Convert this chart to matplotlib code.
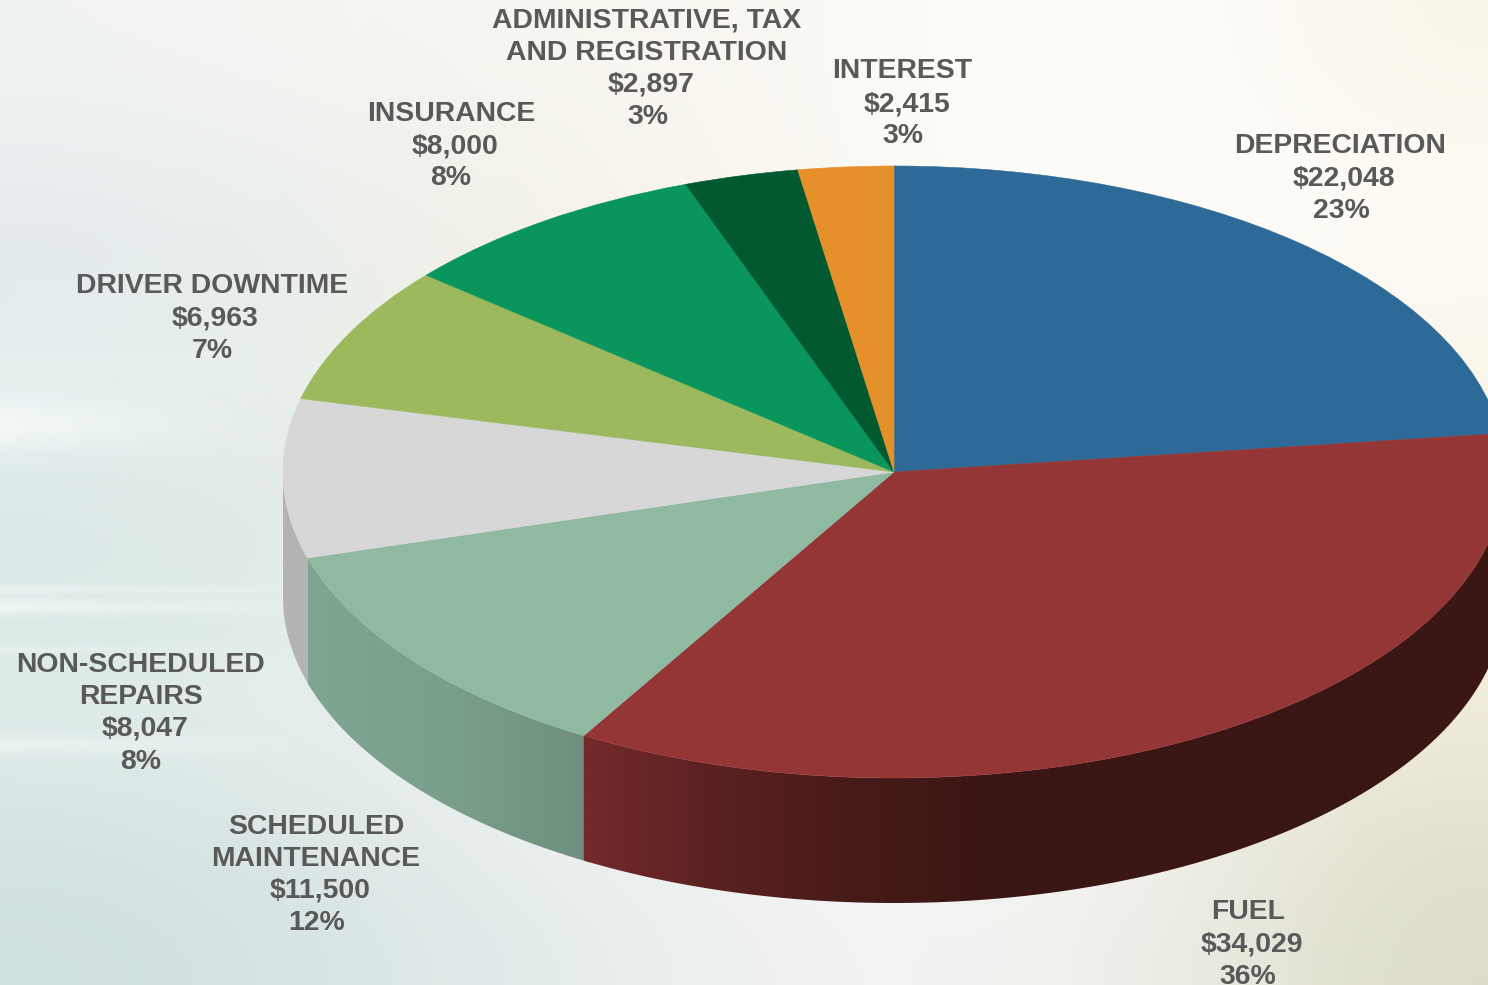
import numpy as np
import matplotlib
matplotlib.use("Agg")
import matplotlib.pyplot as plt
from matplotlib.colors import LinearSegmentedColormap, to_rgb
from matplotlib.patches import Polygon

plt.rcParams['font.family'] = ['Liberation Sans', 'DejaVu Sans']

W, H = 1488, 985
CX, CY = 894, 472
RX, RY = 611, 306
DEPTH = 125

costs = [22048, 34029, 11500, 8047, 6963, 8000, 2897, 2415]
top_colors = ['#2e6a97', '#943635', '#90b9a2', '#d7d7d7',
              '#9cb95e', '#09955c', '#02592f', '#e59028']
# side wall colour stops, (pixel x, colour); back to front so neighbours overlap
side_stops = {
    3: [(283, '#b4b4b4'), (314, '#b4b4b4')],
    2: [(308, '#7fa691'), (450, '#7a9f8a'), (590, '#6e8f7d')],
    1: [(583, '#742a2a'), (700, '#5c2222'), (850, '#471a18'), (1000, '#3a1614'), (1488, '#3a1614')],
}
labels = [
    ['DEPRECIATION', '$22,048', '23%'],
    ['FUEL', '$34,029', '36%'],
    ['SCHEDULED', 'MAINTENANCE', '$11,500', '12%'],
    ['NON-SCHEDULED', 'REPAIRS', '$8,047', '8%'],
    ['DRIVER DOWNTIME', '$6,963', '7%'],
    ['INSURANCE', '$8,000', '8%'],
    ['ADMINISTRATIVE, TAX', 'AND REGISTRATION', '$2,897', '3%'],
    ['INTEREST', '$2,415', '3%'],
]
label_pos = [
    [(1340, 146), (1344, 179), (1341, 211)],
    [(1248, 912), (1252, 945), (1248, 977)],
    [(316, 827), (316, 859), (320, 891), (317, 923)],
    [(141, 665), (141, 697), (145, 729), (141, 762)],
    [(212, 286), (215, 319), (212, 351)],
    [(451, 114), (455, 146), (451, 178)],
    [(647, 20), (647, 53), (651, 85), (648, 117)],
    [(902, 71), (907, 104), (903, 136)],
]
# coarse wash of the photo behind the chart, rows top to bottom
background = [
    ['#f0f3f3', '#f4f5f0', '#f7f6f0', '#f9f7f0', '#fdfcf8', '#fefefc', '#f9f5ea'],
    ['#e9eef0', '#eef1ee', '#f5f3ea', '#f8f6ee', '#fdfcf8', '#fefefb', '#fcfaf2'],
    ['#e2e9ec', '#e9eeea', '#f4f1e6', '#f8f5ea', '#fcfbf5', '#fefdf9', '#fcfaf3'],
    ['#e6f3f1', '#eaf0eb', '#f2f0e6', '#f6f4ea', '#fafaf4', '#fbfaf4', '#f9f6ea'],
    ['#dde7e9', '#e6ece5', '#eeeee6', '#f2f1e8', '#f6f5ee', '#f6f3e8', '#f6f0e0'],
    ['#d9e9e6', '#e2ece9', '#e9eeea', '#eeefea', '#f2f2ec', '#f5f1e4', '#f6f0df'],
    ['#dfecea', '#e9f0ee', '#f0f2f1', '#f1f2f0', '#f3f3f1', '#f5f2e8', '#f1ecd9'],
    ['#d5e4e3', '#dde8e7', '#edf1f0', '#f3f4f3', '#f6f6f5', '#f4f3ee', '#e2e1cf'],
    ['#d0e0df', '#d6e4e3', '#e3ebeb', '#eff1f1', '#f3f3f2', '#eeeee8', '#dcdcc8'],
]
# soft light streaks on the left of the photo: pixel y, half height, reach in x, strength
streaks = [(425, 28, 260, 0.55), (590, 5, 420, 0.45), (607, 9, 380, 0.55),
           (650, 5, 300, 0.3), (745, 12, 330, 0.45)]


def px_x(x):
    return (np.asarray(x) - CX) / RX


def px_y(y):
    return (CY - np.asarray(y)) / RY


def gradient_wall(ax, start, end, stops, depth):
    t = np.radians(np.linspace(start, end, 200))
    xs = np.sin(t)
    ys = np.cos(t)
    verts = np.vstack([np.column_stack([xs, ys]),
                       np.column_stack([xs[::-1], ys[::-1] - depth])])
    x0, x1 = stops[0][0], stops[-1][0]
    cmap = LinearSegmentedColormap.from_list(
        'wall', [((p - x0) / (x1 - x0), to_rgb(c)) for p, c in stops])
    clip = Polygon(verts, closed=True, transform=ax.transData, facecolor='none', edgecolor='none')
    ax.add_patch(clip)
    im = ax.imshow(np.linspace(0, 1, 512)[None, :], cmap=cmap, aspect='auto', zorder=0,
                   extent=(px_x(x0), px_x(x1), ys.min() - depth, ys.max()))
    im.set_clip_path(clip)


def draw_streak(ax, y, half, reach, strength):
    yy = np.linspace(-2.5, 2.5, 40)[:, None]
    xx = np.linspace(0, 1, 80)[None, :]
    img = np.ones((40, 80, 4))
    img[..., 3] = strength * np.exp(-yy ** 2) * (1 - xx)
    ax.imshow(img, aspect='auto', zorder=-1,
              extent=(px_x(0), px_x(reach), px_y(y + 2.5 * half), px_y(y - 2.5 * half)))


fig = plt.figure(figsize=(W / 100, H / 100), dpi=100)
ax = fig.add_axes([0, 0, 1, 1])

xlim = (px_x(0), px_x(W))
ylim = (px_y(H), px_y(0))

bg = np.array([[to_rgb(c) for c in row] for row in background])
ax.imshow(bg, extent=(xlim[0], xlim[1], ylim[0], ylim[1]), origin='upper', aspect='auto',
          interpolation='bicubic', zorder=-2)
for y, half, reach, strength in streaks:
    draw_streak(ax, y, half, reach, strength)

shares = np.array(costs) / sum(costs) * 360
ends = np.cumsum(shares)
starts = ends - shares
for i, stops in side_stops.items():
    gradient_wall(ax, max(starts[i] - 1, 90), min(ends[i], 270), stops, DEPTH / RY)

wedges, _ = ax.pie(costs, colors=top_colors, startangle=90, counterclock=False, radius=1,
                   wedgeprops={'linewidth': 0.4})
for wedge, color in zip(wedges, top_colors):
    wedge.set_edgecolor(color)
ax.set_aspect('auto')
ax.set_xlim(xlim)
ax.set_ylim(ylim)
ax.axis('off')

for lines, positions in zip(labels, label_pos):
    for line, (x, y) in zip(lines, positions):
        fig.text(x / W, 1 - y / H, line, ha='center', va='center', fontsize=20.4,
                 fontweight='bold', color='#595959')

fig.savefig('out.png', dpi=100)
